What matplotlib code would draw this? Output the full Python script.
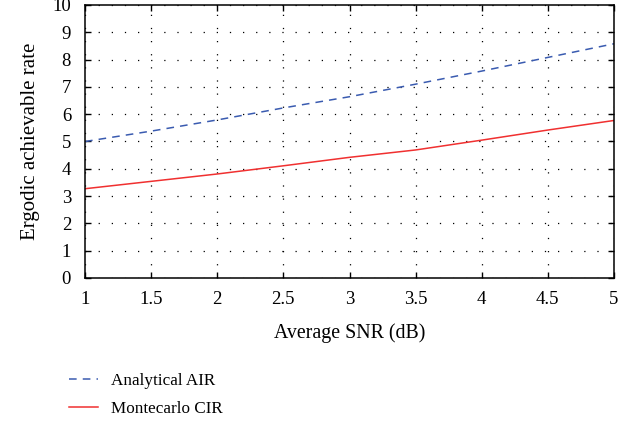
import matplotlib

matplotlib.use("Agg")
import matplotlib.pyplot as plt

# Average SNR (dB)
snr = [1.0, 1.5, 2.0, 2.5, 3.0, 3.5, 4.0, 4.5, 5.0]
analytical_air = [5.0, 5.38, 5.79, 6.23, 6.64, 7.10, 7.58, 8.08, 8.58]
montecarlo_cir = [3.27, 3.54, 3.81, 4.11, 4.42, 4.69, 5.05, 5.42, 5.77]

x_ticks = [1, 1.5, 2, 2.5, 3, 3.5, 4, 4.5, 5]
x_tick_labels = ["1", "1.5", "2", "2.5", "3", "3.5", "4", "4.5", "5"]
y_ticks = list(range(0, 11))

plt.rcParams["font.family"] = ["Liberation Serif", "DejaVu Serif"]
plt.rcParams["font.size"] = 13

fig = plt.figure(figsize=(6.38, 4.21), dpi=100)
ax = fig.add_axes([85 / 638, 1 - 278 / 421, (614 - 85) / 638, (278 - 5) / 421])

ax.plot(snr, analytical_air, color="#3a5bb0", linestyle=(0, (5, 4)), linewidth=1.1, label="Analytical AIR")
ax.plot(snr, montecarlo_cir, color="#f03030", linewidth=1.1, label="Montecarlo CIR")

ax.set_xlim(1, 5)
ax.set_ylim(0, 10)
ax.set_xticks(x_ticks)
ax.set_xticklabels(x_tick_labels)
ax.set_yticks(y_ticks)
ax.grid(True, color="black", linestyle=(0, (1, 9.5)), linewidth=0.9)
ax.tick_params(direction="in", top=True, right=True, length=4, width=1, labelsize=13.5)
ax.tick_params(axis="x", pad=9)
ax.tick_params(axis="y", pad=10)
for spine in ax.spines.values():
    spine.set_linewidth(1.1)

ax.set_xlabel("Average SNR (dB)", fontsize=14.3, labelpad=11)
ax.set_ylabel("Ergodic achievable rate", fontsize=15, labelpad=9)

handles, labels = ax.get_legend_handles_labels()
fig.legend(handles, labels, loc="upper left", bbox_to_anchor=(54 / 638, 1 - 358 / 421),
           frameon=False, fontsize=12.3, handlelength=1.7, handletextpad=0.75, labelspacing=0.7)

fig.savefig("out.png", dpi=100)
